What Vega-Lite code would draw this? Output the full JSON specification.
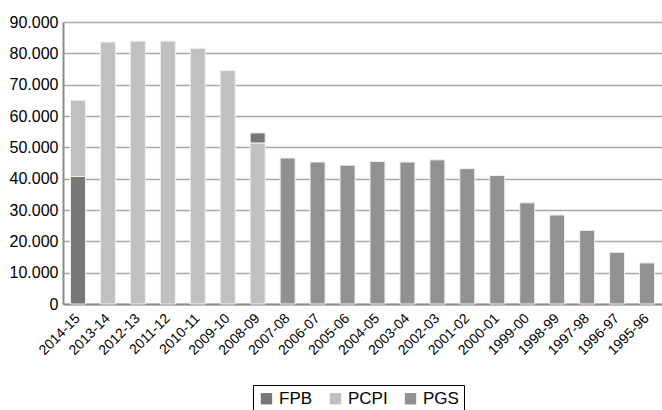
{
  "$schema": "https://vega.github.io/schema/vega-lite/v6.json",
  "autosize": {"type": "none"},
  "padding": {"left": 63, "top": 22, "right": 0, "bottom": 106},
  "width": 599,
  "height": 282,
  "background": "white",
  "data": {"values": [
    {"year": "2014-15", "series": "FPB", "value": 40700, "rank": 1},
    {"year": "2014-15", "series": "PCPI", "value": 24300, "rank": 2},
    {"year": "2013-14", "series": "PCPI", "value": 83600, "rank": 1},
    {"year": "2012-13", "series": "PCPI", "value": 83900, "rank": 1},
    {"year": "2011-12", "series": "PCPI", "value": 83900, "rank": 1},
    {"year": "2010-11", "series": "PCPI", "value": 81600, "rank": 1},
    {"year": "2009-10", "series": "PCPI", "value": 74500, "rank": 1},
    {"year": "2008-09", "series": "PCPI", "value": 51400, "rank": 1},
    {"year": "2008-09", "series": "FPB", "value": 3200, "rank": 2},
    {"year": "2007-08", "series": "PGS", "value": 46600, "rank": 1},
    {"year": "2006-07", "series": "PGS", "value": 45300, "rank": 1},
    {"year": "2005-06", "series": "PGS", "value": 44300, "rank": 1},
    {"year": "2004-05", "series": "PGS", "value": 45500, "rank": 1},
    {"year": "2003-04", "series": "PGS", "value": 45300, "rank": 1},
    {"year": "2002-03", "series": "PGS", "value": 46000, "rank": 1},
    {"year": "2001-02", "series": "PGS", "value": 43200, "rank": 1},
    {"year": "2000-01", "series": "PGS", "value": 41000, "rank": 1},
    {"year": "1999-00", "series": "PGS", "value": 32300, "rank": 1},
    {"year": "1998-99", "series": "PGS", "value": 28400, "rank": 1},
    {"year": "1997-98", "series": "PGS", "value": 23500, "rank": 1},
    {"year": "1996-97", "series": "PGS", "value": 16500, "rank": 1},
    {"year": "1995-96", "series": "PGS", "value": 13100, "rank": 1}
  ]},
  "config": {
    "font": "Liberation Sans",
    "view": {"stroke": null}
  },
  "mark": {"type": "bar", "stroke": "#f2f2e4", "strokeWidth": 1},
  "encoding": {
    "x": {
      "field": "year", "type": "nominal", "sort": null,
      "scale": {"paddingInner": 0.5, "paddingOuter": 0.25},
      "axis": {
        "title": null, "labelAngle": -45, "labelAlign": "right", "labelBaseline": "middle",
        "labelFontSize": 14, "labelColor": "#000", "ticks": false, "labelPadding": 12,
        "labelOffset": 0,
        "domainColor": "#8c8c8c", "domainWidth": 2, "grid": false
      }
    },
    "y": {
      "field": "value", "type": "quantitative", "stack": "zero",
      "scale": {"domain": [0, 90000], "nice": false},
      "axis": {
        "title": null, "values": [0, 10000, 20000, 30000, 40000, 50000, 60000, 70000, 80000, 90000],
        "labelExpr": "replace(format(datum.value, ','), ',', '.')",
        "labelFontSize": 16, "labelColor": "#000", "ticks": false, "labelPadding": 5,
        "domainColor": "#8c8c8c", "domainWidth": 2,
        "grid": true, "gridColor": "#a9a9a9", "gridWidth": 1.5
      }
    },
    "color": {
      "field": "series", "type": "nominal",
      "scale": {"domain": ["FPB", "PCPI", "PGS"], "range": ["#777777", "#c0c0c0", "#919191"]},
      "legend": {
        "title": null, "orient": "none", "legendX": 190, "legendY": 363, "direction": "horizontal",
        "symbolType": "square", "symbolSize": 130, "symbolStrokeWidth": 0,
        "labelFontSize": 17, "labelColor": "#000", "columnPadding": 14, "labelOffset": 4,
        "strokeColor": "#000", "padding": 5, "fillColor": "white"
      }
    },
    "order": {"field": "rank", "type": "quantitative", "sort": "ascending"}
  }
}
